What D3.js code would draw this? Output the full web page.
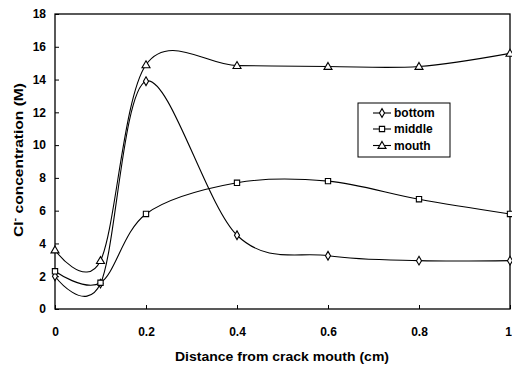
<!DOCTYPE html>
<html><head><meta charset="utf-8">
<script src="https://cdn.jsdelivr.net/npm/d3@7"></script>
<style>body{margin:0;background:#fff}svg{display:block}text{font-family:"Liberation Sans",Arial,sans-serif;font-weight:bold}</style>
</head><body>
<svg id="c" width="512" height="366"></svg>
<script>
const xs = [0, 0.1, 0.2, 0.4, 0.6, 0.8, 1];
const bottom = [2.0, 1.55, 13.9, 4.5, 3.25, 2.95, 2.95];
const middle = [2.3, 1.6, 5.8, 7.7, 7.8, 6.7, 5.8];
const mouth = [3.6, 2.95, 14.9, 14.85, 14.8, 14.8, 15.6];
const seriesNames = ["bottom", "middle", "mouth"];
const xTicks = [0, 0.2, 0.4, 0.6, 0.8, 1];
const yTicks = [0, 2, 4, 6, 8, 10, 12, 14, 16, 18];

const svg = d3.select("#c");
const L = 55, R = 510, T = 14, B = 309;
const x = d3.scaleLinear().domain([0, 1]).range([L, R]);
const y = d3.scaleLinear().domain([0, 18]).range([B, T]);

// frame
svg.append("rect").attr("x", L).attr("y", T).attr("width", R - L).attr("height", B - T)
  .attr("fill", "none").attr("stroke", "#000").attr("stroke-width", 1.3);

// axes
const xAxis = svg.append("g").attr("transform", `translate(0,${B})`)
  .call(d3.axisBottom(x).tickValues(xTicks).tickFormat(d => d === 0 || d === 1 ? d : d3.format(".1f")(d)).tickSizeInner(-4).tickSizeOuter(0).tickPadding(18));
const yAxis = svg.append("g").attr("transform", `translate(${L},0)`)
  .call(d3.axisLeft(y).tickValues(yTicks).tickSizeInner(-4).tickSizeOuter(0).tickPadding(9));
[xAxis, yAxis].forEach(a => {
  a.select(".domain").remove();
  a.selectAll("line").attr("stroke", "#000");
  a.selectAll("text").attr("font-size", 12).attr("fill", "#000");
});
xAxis.selectAll(".tick").filter(d => d === 1).select("text").attr("dx", -2);

// lines
const data = [bottom, middle, mouth];
const line = d3.line().x((d, i) => x(xs[i])).y(d => y(d)).curve(d3.curveCardinal.tension(0));
data.forEach(s => {
  svg.append("path").attr("d", line(s)).attr("fill", "none").attr("stroke", "#000").attr("stroke-width", 1.1);
});

// markers
const symTypes = [d3.symbolDiamond, d3.symbolSquare, d3.symbolTriangle];
const symSizes = [22, 28, 28];
function marker(g, k, cx, cy) {
  g.append("path").attr("d", d3.symbol().type(symTypes[k]).size(symSizes[k])())
    .attr("transform", `translate(${cx},${cy + (k === 2 ? 0.6 : 0)})`)
    .attr("fill", "#fff").attr("stroke", "#000").attr("stroke-width", 1.1);
}
data.forEach((s, k) => {
  const g = svg.append("g");
  s.forEach((v, i) => marker(g, k, x(xs[i]), y(v)));
});

// legend
const lg = svg.append("g");
lg.append("rect").attr("x", 358).attr("y", 103).attr("width", 92).attr("height", 54)
  .attr("fill", "#fff").attr("stroke", "#000").attr("stroke-width", 1);
const ly = [113, 129, 145.5];
seriesNames.forEach((n, k) => {
  lg.append("line").attr("x1", 373).attr("x2", 391).attr("y1", ly[k]).attr("y2", ly[k]).attr("stroke", "#000").attr("stroke-width", 1.1);
  marker(lg, k, 382, ly[k]);
  lg.append("text").attr("x", 394).attr("y", ly[k]).attr("dy", "0.35em").attr("font-size", 12).text(n);
});

// axis titles
svg.append("text").attr("x", 282).attr("y", 361).attr("text-anchor", "middle").attr("font-size", 13.5)
  .attr("textLength", 214).attr("lengthAdjust", "spacingAndGlyphs")
  .text("Distance from crack mouth (cm)");
const yt = svg.append("text").attr("transform", `translate(23,160) rotate(-90)`).attr("text-anchor", "middle").attr("font-size", 13)
  .attr("textLength", 154).attr("lengthAdjust", "spacingAndGlyphs");
yt.append("tspan").text("Cl");
yt.append("tspan").attr("baseline-shift", "super").attr("font-size", 9).text("-");
yt.append("tspan").text(" concentration (M)");
</script>
</body></html>
